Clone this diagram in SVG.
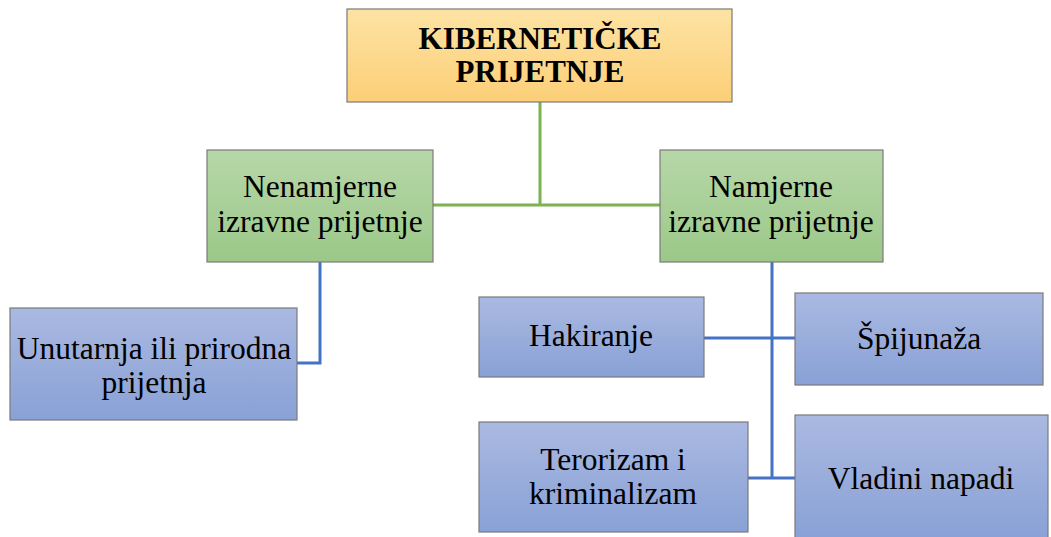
<svg xmlns="http://www.w3.org/2000/svg" width="1051" height="537" viewBox="0 0 1051 537">
<defs>
<linearGradient id="gOr" x1="0" y1="0" x2="0" y2="1"><stop offset="0" stop-color="#fde3a3"/><stop offset="1" stop-color="#fccf78"/></linearGradient>
<linearGradient id="gGr" x1="0" y1="0" x2="0" y2="1"><stop offset="0" stop-color="#b7d7a8"/><stop offset="1" stop-color="#9bc889"/></linearGradient>
<linearGradient id="gBl" x1="0" y1="0" x2="0" y2="1"><stop offset="0" stop-color="#aab9e1"/><stop offset="1" stop-color="#89a1d6"/></linearGradient>
<style>
.box{stroke:#7a7a7a;stroke-width:1.2}
.t{font-family:"Liberation Serif","Times New Roman",serif;font-size:31.5px;fill:#000;text-anchor:middle}
.b{font-weight:bold;font-size:31px}
.gl{stroke:#7cb24f;stroke-width:3;fill:none}
.bl{stroke:#4472c4;stroke-width:3;fill:none}
</style>
</defs>
<g id="connectors">
<path class="gl" d="M540 102 V205 M433 205 H660"/>
<path class="bl" d="M320 262 V363 H297"/>
<path class="bl" d="M772 262 V478 M704 338 H795 M748 478 H795"/>
</g>
<g id="root"><rect class="box" x="347" y="9" width="385" height="93" fill="url(#gOr)"/>
<text class="t b" x="540" y="49">KIBERNETIČKE</text><text class="t b" x="540" y="82">PRIJETNJE</text></g>
<g id="nenamjerne"><rect class="box" x="207" y="150" width="226" height="112" fill="url(#gGr)"/>
<text class="t" x="320" y="197">Nenamjerne</text><text class="t" x="320" y="232">izravne prijetnje</text></g>
<g id="namjerne"><rect class="box" x="660" y="150" width="223" height="112" fill="url(#gGr)"/>
<text class="t" x="771" y="197">Namjerne</text><text class="t" x="771" y="232">izravne prijetnje</text></g>
<g id="unutarnja"><rect class="box" x="10" y="308" width="287" height="112" fill="url(#gBl)"/>
<text class="t" x="154" y="359">Unutarnja ili prirodna</text><text class="t" x="154" y="393">prijetnja</text></g>
<g id="hakiranje"><rect class="box" x="479" y="297" width="225" height="80" fill="url(#gBl)"/>
<text class="t" x="591" y="346">Hakiranje</text></g>
<g id="spijunaza"><rect class="box" x="795" y="293" width="248" height="92" fill="url(#gBl)"/>
<text class="t" x="919" y="349">Špijunaža</text></g>
<g id="terorizam"><rect class="box" x="479" y="422" width="269" height="110" fill="url(#gBl)"/>
<text class="t" x="613" y="470">Terorizam i</text><text class="t" x="613" y="504">kriminalizam</text></g>
<g id="vladini"><rect class="box" x="795" y="415" width="253" height="125" fill="url(#gBl)"/>
<text class="t" x="921" y="489">Vladini napadi</text></g>
</svg>
